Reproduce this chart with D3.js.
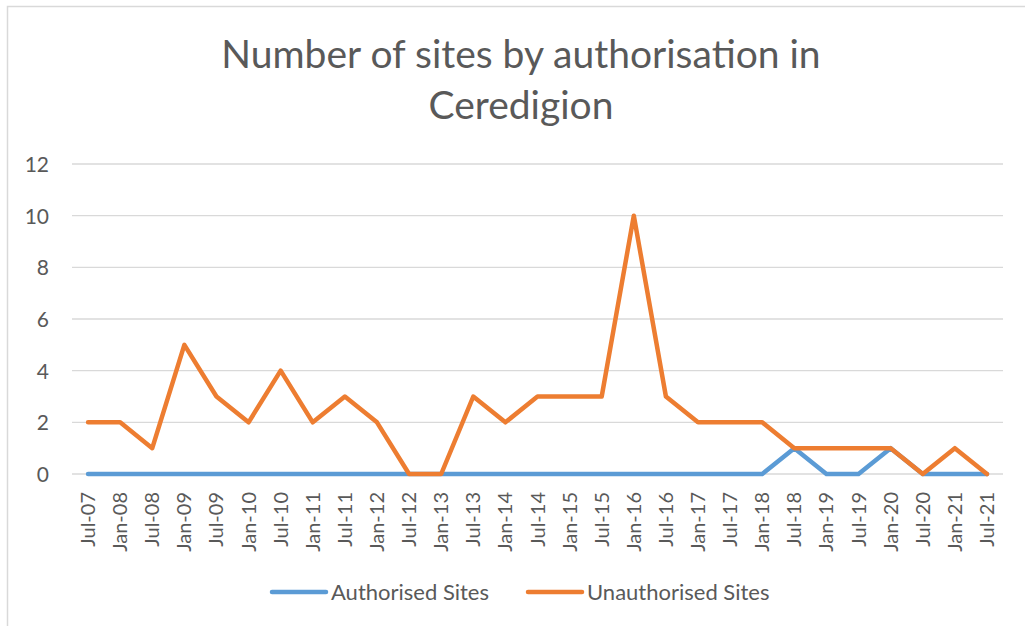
<!DOCTYPE html>
<html>
<head>
	<meta charset="utf-8">
	<title>Number of sites by authorisation in Ceredigion</title>
	<style type="text/css">
		body {
			margin: 0;
			background: #fff;
			overflow: hidden;
		}
		.chart text {
			font-family: Lato, "Open Sans", sans-serif;
			fill: #595959;
		}
	</style>
</head>
<body>
	<svg class="chart" width="1025" height="626"></svg>

	<script src="https://d3js.org/d3.v7.min.js" charset="utf-8"></script>
	<script type="text/javascript">

		// chart data
		var periods = ['Jul-07', 'Jan-08', 'Jul-08', 'Jan-09', 'Jul-09', 'Jan-10', 'Jul-10', 'Jan-11',
			'Jul-11', 'Jan-12', 'Jul-12', 'Jan-13', 'Jul-13', 'Jan-14', 'Jul-14', 'Jan-15', 'Jul-15',
			'Jan-16', 'Jul-16', 'Jan-17', 'Jul-17', 'Jan-18', 'Jul-18', 'Jan-19', 'Jul-19', 'Jan-20',
			'Jul-20', 'Jan-21', 'Jul-21'];
		var authorised = [0, 0, 0, 0, 0, 0, 0, 0, 0, 0, 0, 0, 0, 0, 0, 0, 0,
			0, 0, 0, 0, 0, 1, 0, 0, 1, 0, 0, 0];
		var unauthorised = [2, 2, 1, 5, 3, 2, 4, 2, 3, 2, 0, 0, 3, 2, 3, 3, 3,
			10, 3, 2, 2, 2, 1, 1, 1, 1, 0, 1, 0];
		var yTicks = [0, 2, 4, 6, 8, 10, 12];
		var seriesNames = ['Authorised Sites', 'Unauthorised Sites'];
		var colours = ['#5b9bd5', '#ed7d31'];

		var svg = d3.select('.chart');

		// outer border of the chart area (runs off the right and bottom edge)
		svg.append('rect')
			.attr('x', 7.5).attr('y', 6.5)
			.attr('width', 1030).attr('height', 640)
			.attr('fill', '#fff')
			.attr('stroke', '#d9d9d9')
			.attr('stroke-width', 1.5);

		// title, two lines
		var title = svg.append('text')
			.attr('text-anchor', 'middle')
			.style('font-size', '39px')
			.style('font-weight', 400);
		title.append('tspan').attr('x', 521).attr('y', 68).text('Number of sites by authorisation in');
		title.append('tspan').attr('x', 521).attr('y', 119).text('Ceredigion');

		// scales
		var x = d3.scaleBand().domain(periods).range([72, 1003]);
		var y = d3.scaleLinear().domain([0, 12]).range([474, 164]);

		// horizontal gridlines
		svg.append('g').selectAll('line').data(yTicks)
			.enter().append('line')
				.attr('x1', 72).attr('x2', 1003)
				.attr('y1', function(d) { return y(d); })
				.attr('y2', function(d) { return y(d); })
				.attr('stroke', '#d9d9d9')
				.attr('stroke-width', 1.3);

		// y axis labels
		var yAxis = d3.axisLeft(y).tickValues(yTicks).tickSize(0).tickPadding(0);
		svg.append('g')
			.attr('transform', 'translate(49,0)')
			.call(yAxis)
			.call(function(g) { g.select('.domain').remove(); })
			.selectAll('text')
				.attr('dy', '0.35em')
				.style('font-size', '21px');

		// x axis labels, rotated
		var xAxis = d3.axisBottom(x).tickSize(0).tickPadding(0);
		svg.append('g')
			.attr('transform', 'translate(0,492)')
			.call(xAxis)
			.call(function(g) { g.select('.domain').remove(); })
			.selectAll('text')
				.attr('transform', 'rotate(-90)')
				.attr('text-anchor', 'end')
				.attr('x', 0)
				.attr('y', 0)
				.attr('dy', '0.35em')
				.style('font-size', '20px');

		// lines
		var line = d3.line()
			.x(function(d, i) { return x(periods[i]) + x.bandwidth() / 2; })
			.y(function(d) { return y(d); });

		[authorised, unauthorised].forEach(function(values, k) {
			svg.append('path')
				.datum(values)
				.attr('fill', 'none')
				.attr('stroke', colours[k])
				.attr('stroke-width', 4.5)
				.attr('stroke-linejoin', 'round')
				.attr('stroke-linecap', 'round')
				.attr('d', line);
		});

		// legend
		var legendX = [272, 528];
		var legend = svg.append('g').selectAll('g').data(seriesNames)
			.enter().append('g')
				.attr('transform', function(d, i) { return 'translate(' + legendX[i] + ',592)'; });
		legend.append('line')
			.attr('x1', 0).attr('x2', 54)
			.attr('stroke', function(d, i) { return colours[i]; })
			.attr('stroke-width', 4.5)
			.attr('stroke-linecap', 'round');
		legend.append('text')
			.attr('x', 59)
			.attr('dy', '0.35em')
			.style('font-size', '22px')
			.text(function(d) { return d; });

	</script>
</body>
</html>
